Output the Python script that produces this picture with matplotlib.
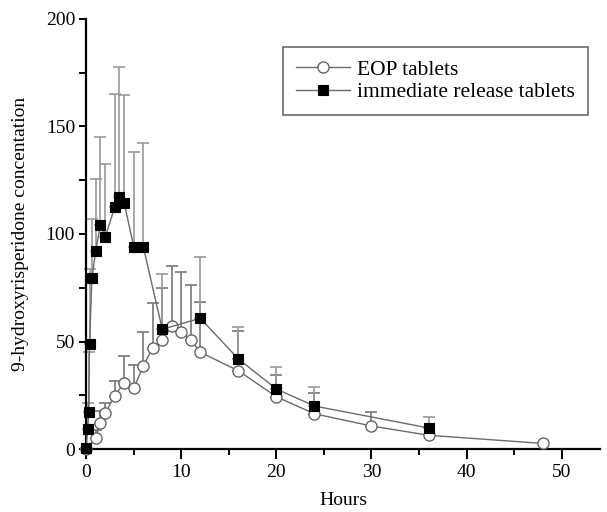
import numpy as np
import matplotlib.pyplot as plt
from matplotlib.ticker import MultipleLocator

plt.rcParams['font.family'] = ['Liberation Serif', 'DejaVu Serif']

# EOP (extended release) tablets
eop_t = [0, 1, 1.5, 2, 3, 4, 5, 6, 7, 8, 9, 10, 11, 12, 16, 20, 24, 30, 36, 48]
eop_c = [0, 5, 12, 16.6, 24.8, 30.8, 28.2, 38.6, 47.1, 50.7, 57, 54.4, 50.7, 45,
         36.4, 24.3, 16.4, 10.7, 6.4, 2.6]
eop_sd = [0, 4, 5.8, 4.9, 6.8, 12.5, 10.7, 15.8, 20.9, 24.3, 28.3, 27.9, 25.6, 23.2,
          18.5, 10, 9.8, 6.3, 4, 0]

# immediate release tablets
ir_t = [0, 0.15, 0.25, 0.35, 0.6, 1, 1.5, 2, 3, 3.5, 4, 5, 6, 8, 12, 16, 20, 24, 36]
ir_c = [0.5, 9.2, 17.2, 48.9, 79.5, 92.2, 104.4, 98.5, 112.5, 117, 114.3, 94.1, 94.1,
        55.7, 60.8, 41.9, 27.9, 20, 9.8]
ir_sd = [0, 12.3, 28, 35, 27.5, 33.5, 40.5, 34, 52.5, 60.5, 50.4, 43.9, 48.1,
         25.7, 28.5, 15, 10.4, 8.7, 4.9]

fig = plt.figure(figsize=(6.07, 5.12), dpi=100)
ax = fig.add_axes([0.142, 0.123, 0.846, 0.840])

line_col = '#6a6a6a'

# upper error bars only
ax.errorbar(eop_t, eop_c, yerr=[np.zeros(len(eop_sd)), eop_sd], fmt='none',
            ecolor='#777777', elinewidth=1.2, capsize=4, capthick=1.2, clip_on=False)
ax.errorbar(ir_t, ir_c, yerr=[np.zeros(len(ir_sd)), ir_sd], fmt='none',
            ecolor='#9a9a9a', elinewidth=1.2, capsize=4, capthick=1.2, clip_on=False)

ax.plot(eop_t, eop_c, '-o', color=line_col, lw=1.0, ms=8, mfc='white',
        mec='#666666', mew=1.0, label='EOP tablets', clip_on=False, zorder=4)
ax.plot(ir_t, ir_c, '-s', color=line_col, lw=1.0, ms=7.5, mfc='black',
        mec='black', mew=0.8, label='immediate release tablets', clip_on=False, zorder=5)

ax.set_xlim(0, 54)
ax.set_ylim(0, 200)
ax.xaxis.set_major_locator(MultipleLocator(10))
ax.xaxis.set_minor_locator(MultipleLocator(5))
ax.yaxis.set_major_locator(MultipleLocator(50))
ax.yaxis.set_minor_locator(MultipleLocator(25))

for s in ['top', 'right']:
    ax.spines[s].set_visible(False)
for s in ['left', 'bottom']:
    ax.spines[s].set_linewidth(1.6)

ax.tick_params(axis='x', which='major', length=7, width=1.4, labelsize=14, pad=4)
ax.tick_params(axis='x', which='minor', length=4.5, width=1.4)
ax.tick_params(axis='y', which='both', length=5, width=1.4, labelsize=14, pad=3)

ax.set_xlabel('Hours', fontsize=14, labelpad=8)
ax.set_ylabel('9-hydroxyrisperidone concentation', fontsize=14, labelpad=12)

leg = ax.legend(loc='upper right', bbox_to_anchor=(0.977, 0.935), fontsize=15.5,
                frameon=True, fancybox=False, edgecolor='#444444',
                handlelength=2.5, borderpad=0.6, labelspacing=0.1, handletextpad=0.35,
                borderaxespad=0)
leg.get_frame().set_linewidth(1.2)

fig.savefig('out.png', dpi=100)
